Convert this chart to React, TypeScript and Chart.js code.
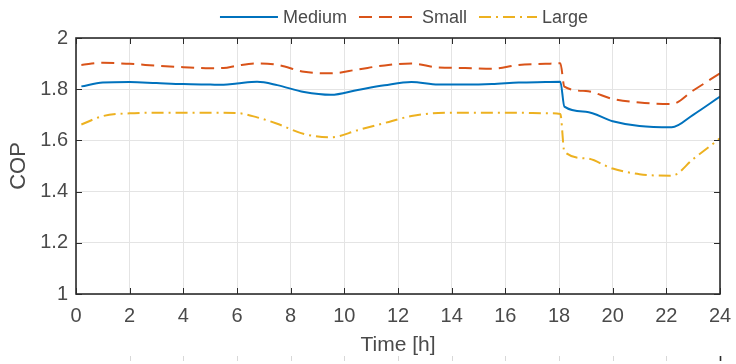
import React, { useEffect, useRef } from 'react';
import { Chart, registerables } from 'chart.js';

Chart.register(...registerables);

// ---- data ----
const hours = [0.2, 1, 2, 3, 4, 5, 5.5, 6, 6.75, 7.5, 8.5, 9.5, 10.5, 11.5, 12.5, 13.5, 14.5, 15.5, 16.5, 17.5, 18.05, 18.2, 19, 20, 21, 22.2, 23, 24];
const medium = [1.811, 1.826, 1.828, 1.824, 1.820, 1.818, 1.817, 1.822, 1.829, 1.816, 1.789, 1.778, 1.797, 1.815, 1.828, 1.818, 1.818, 1.820, 1.826, 1.828, 1.829, 1.732, 1.712, 1.675, 1.656, 1.651, 1.700, 1.771];
const small = [1.895, 1.903, 1.899, 1.892, 1.886, 1.882, 1.883, 1.892, 1.901, 1.895, 1.868, 1.862, 1.877, 1.893, 1.900, 1.885, 1.883, 1.880, 1.895, 1.899, 1.901, 1.810, 1.793, 1.762, 1.748, 1.742, 1.795, 1.862];
const large = [1.662, 1.695, 1.706, 1.708, 1.708, 1.708, 1.708, 1.707, 1.690, 1.665, 1.625, 1.612, 1.640, 1.668, 1.695, 1.707, 1.708, 1.708, 1.708, 1.706, 1.703, 1.556, 1.530, 1.490, 1.468, 1.462, 1.527, 1.608];

const seriesNames = ['Medium', 'Small', 'Large'];
const seriesValues = [medium, small, large];
const seriesColors = ['#0072BD', '#D95319', '#EDB120'];
const seriesDashes: number[][] = [[], [13, 7], [12, 5, 2, 5]];

const xMin = 0;
const xMax = 24;
const xStep = 2;
const yMin = 1;
const yMax = 2;
const yStep = 0.2;
const xTitle = 'Time [h]';
const yTitle = 'COP';

const FONT = '"Liberation Sans", Arial, Helvetica, sans-serif';
const TEXT = '#4a4a4a';
const AXIS = '#2b2b2b';
const GRID = '#e4e4e4';

const framePlugin = {
  id: 'matlabFrame',
  afterDraw(chart: any) {
    const { ctx, chartArea } = chart;
    const { left, right, top, bottom } = chartArea;
    const xs = chart.scales.x;
    const ys = chart.scales.y;
    ctx.save();
    // inward ticks
    ctx.strokeStyle = AXIS;
    ctx.lineWidth = 1;
    const tl = 6;
    xs.ticks.forEach((t: any) => {
      const px = Math.round(xs.getPixelForValue(t.value)) + 0.5;
      ctx.beginPath();
      ctx.moveTo(px, bottom);
      ctx.lineTo(px, bottom - tl);
      ctx.moveTo(px, top);
      ctx.lineTo(px, top + tl);
      ctx.stroke();
    });
    ys.ticks.forEach((t: any) => {
      const py = Math.round(ys.getPixelForValue(t.value)) + 0.5;
      ctx.beginPath();
      ctx.moveTo(left, py);
      ctx.lineTo(left + tl, py);
      ctx.moveTo(right, py);
      ctx.lineTo(right - tl, py);
      ctx.stroke();
    });
    // box
    ctx.lineWidth = 1.6;
    ctx.strokeRect(left, top, right - left, bottom - top);

    // fragment of the next panel at the bottom edge
    const h = chart.height;
    xs.ticks.forEach((t: any, i: number) => {
      if (i === 0) return;
      const px = Math.round(xs.getPixelForValue(t.value)) + 0.5;
      const last = i === xs.ticks.length - 1;
      ctx.strokeStyle = last ? AXIS : '#d8d8d8';
      ctx.lineWidth = last ? 1.6 : 1;
      ctx.beginPath();
      ctx.moveTo(px, h - 8);
      ctx.lineTo(px, h - 3);
      ctx.stroke();
    });

    // legend
    ctx.font = `18px ${FONT}`;
    ctx.textBaseline = 'middle';
    ctx.textAlign = 'left';
    const sample = 58;
    const textGap = 5;
    const itemGap = 12;
    const widths = seriesNames.map((n) => ctx.measureText(n).width);
    const total = widths.reduce((a, b) => a + b, 0) + seriesNames.length * (sample + textGap) + (seriesNames.length - 1) * itemGap;
    let x = (left + right) / 2 + 6 - total / 2;
    const y = 17;
    seriesNames.forEach((name, i) => {
      ctx.strokeStyle = seriesColors[i];
      ctx.lineWidth = 2;
      ctx.setLineDash(seriesDashes[i]);
      ctx.beginPath();
      ctx.moveTo(x, y);
      ctx.lineTo(x + sample, y);
      ctx.stroke();
      ctx.setLineDash([]);
      x += sample + textGap;
      ctx.fillStyle = TEXT;
      ctx.fillText(name, x, y + 1);
      x += widths[i] + itemGap;
    });
    ctx.restore();
  },
};

export default function App() {
  const ref = useRef<HTMLCanvasElement | null>(null);

  useEffect(() => {
    if (!ref.current) return;
    const datasets = seriesNames.map((name, i) => ({
      label: name,
      data: hours.map((h, j) => ({ x: h, y: seriesValues[i][j] })),
      borderColor: seriesColors[i],
      backgroundColor: seriesColors[i],
      borderWidth: 2,
      borderDash: seriesDashes[i],
      borderCapStyle: 'butt' as const,
      pointRadius: 0,
      cubicInterpolationMode: 'monotone' as const,
      fill: false,
    }));

    const chart = new Chart(ref.current, {
      type: 'line',
      data: { datasets },
      plugins: [framePlugin],
      options: {
        animation: false,
        responsive: false,
        devicePixelRatio: 1,
        layout: { padding: { top: 38, right: 16, left: 0, bottom: 0 } },
        plugins: {
          legend: { display: false },
          tooltip: { enabled: false },
        },
        scales: {
          x: {
            type: 'linear',
            min: xMin,
            max: xMax,
            afterFit: (s: any) => {
              s.height = 70;
              s.paddingLeft = 0;
              s.paddingRight = 0;
            },
            ticks: {
              stepSize: xStep,
              padding: 10,
              color: TEXT,
              font: { family: FONT, size: 20 },
              maxRotation: 0,
            },
            grid: { color: GRID, drawTicks: false, lineWidth: 1 },
            border: { display: false },
            title: {
              display: true,
              text: xTitle,
              color: TEXT,
              font: { family: FONT, size: 21, lineHeight: 1 },
              padding: { top: 0, bottom: 8 },
            },
          },
          y: {
            type: 'linear',
            min: yMin,
            max: yMax,
            afterFit: (s: any) => {
              s.width = 76;
              s.paddingTop = 0;
              s.paddingBottom = 0;
            },
            ticks: {
              stepSize: yStep,
              padding: 8,
              color: TEXT,
              font: { family: FONT, size: 20 },
              callback: (v: any) => String(Number(Number(v).toFixed(1))),
            },
            grid: { color: GRID, drawTicks: false, lineWidth: 1 },
            border: { display: false },
            title: {
              display: true,
              text: yTitle,
              color: TEXT,
              font: { family: FONT, size: 22, lineHeight: 1 },
              padding: { top: 8, bottom: 0 },
            },
          },
        },
      },
    });
    return () => chart.destroy();
  }, []);

  return (
    <div style={{ position: 'fixed', left: 0, top: 0, width: 736, height: 364, background: '#fff' }}>
      <canvas ref={ref} width={736} height={364} style={{ display: 'block', width: 736, height: 364 }} />
    </div>
  );
}
